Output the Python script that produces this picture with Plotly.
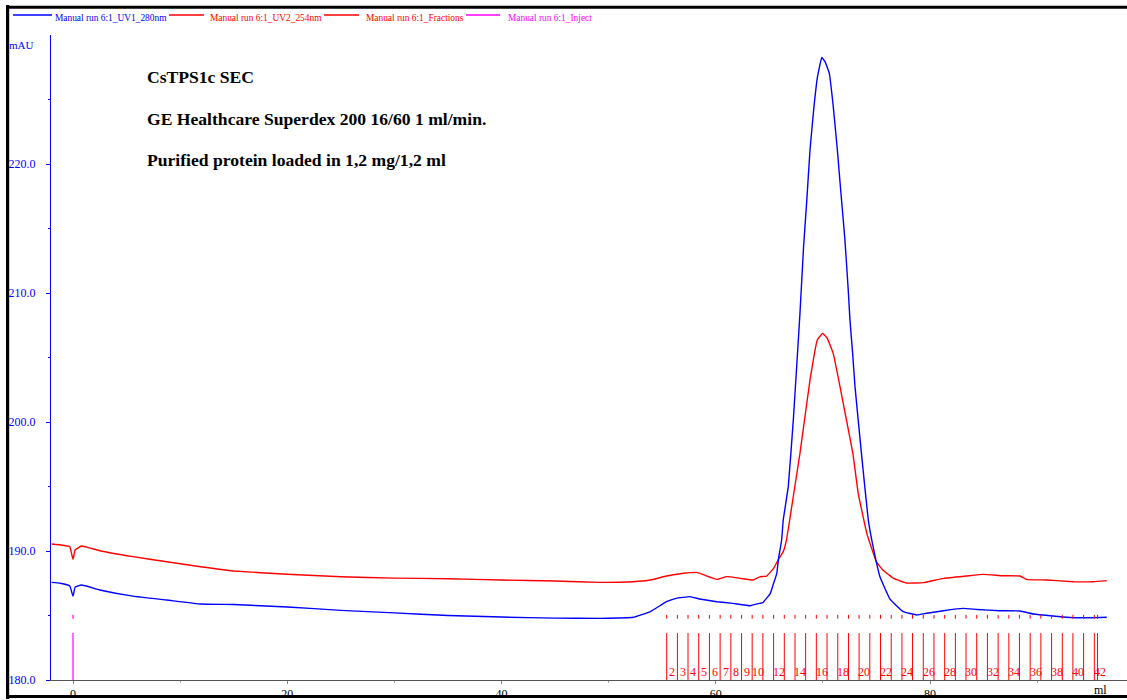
import plotly.graph_objects as go

# ---------------- data ----------------
uv280_ml = [-2.0, -1.2, -0.3, 0.0, 0.2, 0.8, 2.5, 5.6, 8.75, 11.9, 15.0, 20.0, 25.0, 30.0,
            35.0, 40.0, 45.0, 49.2, 52.3, 53.9, 55.4, 56.3, 57.6, 58.5, 60.1, 61.6, 63.2,
            64.1, 64.4, 65.1, 65.4, 65.7, 65.84, 66.15, 66.3, 66.77, 67.24, 67.86, 68.2,
            68.5, 68.8, 69.17, 69.5, 69.9, 70.2, 70.6, 70.97, 71.35, 71.66, 72.06, 72.37,
            72.53, 72.78, 73.0, 73.6, 74.24, 74.7, 75.33, 76.27, 77.5, 78.77, 79.7, 81.26,
            83.1, 84.4, 86.5, 88.4, 89.65, 91.5, 93.4, 95.25, 96.5]
uv280_mau = [187.57, 187.5, 187.29, 186.5, 187.2, 187.36, 186.98, 186.5, 186.2, 185.89, 185.85,
             185.66, 185.4, 185.2, 185.0, 184.88, 184.8, 184.78, 184.86, 185.3, 186.07, 186.33,
             186.46, 186.28, 186.07, 185.94, 185.76, 185.94, 186.0, 186.72, 187.5, 188.27, 189.3,
             190.85, 192.4, 194.99, 200.16, 208.4, 213.6, 217.2, 221.1, 224.45, 226.77, 228.26,
             227.93, 227.03, 224.45, 221.1, 218.0, 214.1, 210.2, 207.9, 205.3, 202.74, 197.57,
             192.4, 190.3, 188.0, 186.27, 185.3, 185.04, 185.17, 185.37, 185.55, 185.47, 185.37,
             185.35, 185.12, 184.96, 184.83, 184.83, 184.86]

uv254_ml = [-2.0, -1.0, -0.3, 0.0, 0.2, 0.8, 2.5, 5.6, 8.75, 11.9, 15.0, 20.0, 25.0, 30.0,
            35.0, 40.0, 45.0, 49.2, 52.3, 53.9, 55.4, 57.0, 58.2, 60.1, 61.0, 62.3, 63.5,
            64.1, 64.75, 65.4, 66.0, 66.3, 66.6, 66.9, 67.86, 68.8, 69.48, 69.98, 70.4,
            70.97, 71.6, 72.2, 72.8, 73.3, 74.1, 75.0, 75.6, 76.6, 77.8, 79.4, 81.26, 83.4,
            85.0, 86.8, 88.4, 89.0, 90.9, 93.4, 95.25, 96.5]
uv254_mau = [190.54, 190.45, 190.33, 189.35, 190.08, 190.39, 190.02, 189.56, 189.17, 188.78,
             188.45, 188.2, 188.0, 187.9, 187.85, 187.75, 187.67, 187.57, 187.62, 187.75,
             188.06, 188.27, 188.34, 187.8, 188.01, 187.88, 187.75, 188.0, 188.06, 188.66,
             189.56, 189.95, 190.85, 192.4, 197.57, 203.26, 206.36, 206.87, 206.5, 205.3,
             202.74, 200.16, 197.57, 194.47, 191.37, 189.15, 188.53, 187.88, 187.52, 187.55,
             187.88, 188.06, 188.19, 188.08, 188.06, 187.8, 187.75, 187.62, 187.62, 187.7]

fraction_numbers = list(range(2, 43))
fraction_ml = [55.42, 56.42, 57.41, 58.41, 59.41, 60.41, 61.41, 62.41, 63.40, 64.40, 65.40,
               66.40, 67.40, 68.39, 69.39, 70.39, 71.39, 72.39, 73.38, 74.38, 75.38, 76.38,
               77.38, 78.37, 79.37, 80.37, 81.37, 82.37, 83.36, 84.36, 85.36, 86.36, 87.36,
               88.35, 89.35, 90.35, 91.35, 92.35, 93.34, 94.34, 95.34]
fraction_end_ml = 95.64
labelled_fractions = [2, 3, 4, 5, 6, 7, 8, 9, 10, 12, 14, 16, 18, 20, 22, 24, 26, 28, 30,
                      32, 34, 36, 38, 40, 42]
inject_ml = [0.0]

legend_names = ["Manual run 6:1_UV1_280nm", "Manual run 6:1_UV2_254nm",
                "Manual run 6:1_Fractions", "Manual run 6:1_Inject"]
title_lines = ["CsTPS1c SEC", "GE Healthcare Superdex 200 16/60 1 ml/min.",
               "Purified protein loaded in 1,2 mg/1,2 ml"]

x_ticks = [0, 20, 40, 60, 80]
y_ticks = [180, 190, 200, 210, 220]

# ---------------- layout geometry ----------------
W, H = 1127, 700
L, R, T, B = 51, 0, 35, 20
PW, PH = W - L - R, H - T - B
px_per_ml = 10.7125
x0_px = 73  # pixel of 0 ml
xr = [(L - x0_px) / px_per_ml, (W - R - x0_px) / px_per_ml]
yr = [180, 230]

def px(xp):
    return (xp - L) / PW

def py(yp):
    return (H - B - yp) / PH

BLUE = "#0000ff"
RED = "#ff0000"
MAG = "#ff00ff"
SERIF = "Liberation Serif, Times New Roman, serif"

fig = go.Figure()

fig.add_trace(go.Scatter(x=uv254_ml, y=uv254_mau, mode="lines",
                         line=dict(color=RED, width=1.4, shape="spline", smoothing=0.3),
                         name=legend_names[1], showlegend=False, hoverinfo="skip"))
fig.add_trace(go.Scatter(x=uv280_ml, y=uv280_mau, mode="lines",
                         line=dict(color=BLUE, width=1.4, shape="spline", smoothing=0.3),
                         name=legend_names[0], showlegend=False, hoverinfo="skip"))

# fraction marks
long_x, long_y, tick_x, tick_y = [], [], [], []
for v in fraction_ml + [fraction_end_ml]:
    long_x += [v, v, None]
    long_y += [180.0, 183.64, None]
    tick_x += [v, v, None]
    tick_y += [184.75, 185.05, None]
fig.add_trace(go.Scatter(x=long_x, y=long_y, mode="lines", line=dict(color=RED, width=1),
                         showlegend=False, hoverinfo="skip"))
fig.add_trace(go.Scatter(x=tick_x, y=tick_y, mode="lines", line=dict(color=RED, width=1),
                         showlegend=False, hoverinfo="skip"))

# inject mark
ix, iy = [], []
for v in inject_ml:
    ix += [v, v, None, v, v, None]
    iy += [180.0, 183.64, None, 184.75, 185.05, None]
fig.add_trace(go.Scatter(x=ix, y=iy, mode="lines", line=dict(color=MAG, width=1.2),
                         showlegend=False, hoverinfo="skip"))

annotations = []
for n, v in zip(fraction_numbers, fraction_ml):
    if n in labelled_fractions:
        annotations.append(dict(x=v + 0.5, y=180.62, xref="x", yref="y", text=str(n),
                                showarrow=False, xanchor="center", yanchor="middle",
                                font=dict(family=SERIF, size=12, color=RED)))

# title text
for txt, yp in zip(title_lines, [77, 119, 160]):
    annotations.append(dict(x=px(145), y=py(yp), xref="paper", yref="paper", text="<b>" + txt + "</b>",
                            showarrow=False, xanchor="left", yanchor="middle",
                            font=dict(family=SERIF, size=17.6, color="black")))

# legend
legend_specs = [(13, 52, 53, BLUE, BLUE), (169, 204, 208, RED, RED),
                (324, 359, 364, RED, RED), (466, 500, 506, MAG, MAG)]
shapes = []
for name, (l0, l1, tx, lc, tc) in zip(legend_names, legend_specs):
    shapes.append(dict(type="line", xref="paper", yref="paper", x0=px(l0), x1=px(l1),
                       y0=py(15), y1=py(15), line=dict(color=lc, width=1.4)))
    annotations.append(dict(x=px(tx), y=py(18), xref="paper", yref="paper", text=name,
                            showarrow=False, xanchor="left", yanchor="middle",
                            font=dict(family=SERIF, size=9.4, color=tc)))

annotations.append(dict(x=px(7), y=py(45), xref="paper", yref="paper", text="mAU",
                        showarrow=False, xanchor="left", yanchor="middle",
                        font=dict(family=SERIF, size=11, color=BLUE)))
annotations.append(dict(x=(1100 - x0_px) / px_per_ml, y=py(690), xref="x", yref="paper", text="ml",
                        showarrow=False, xanchor="center", yanchor="middle",
                        font=dict(family=SERIF, size=12, color="black")))

# outer frame (left, top, bottom)
shapes.append(dict(type="line", xref="paper", yref="paper", x0=px(7.6), x1=px(7.6),
                   y0=py(5), y1=py(699), line=dict(color="black", width=3.2)))
shapes.append(dict(type="line", xref="paper", yref="paper", x0=px(6), x1=px(W),
                   y0=py(7.2), y1=py(7.2), line=dict(color="black", width=3)))
shapes.append(dict(type="line", xref="paper", yref="paper", x0=px(6), x1=px(W),
                   y0=py(696.5), y1=py(696.5), line=dict(color="black", width=3)))

fig.update_layout(
    width=W, height=H,
    margin=dict(l=L, r=R, t=T, b=B, pad=0, autoexpand=False),
    paper_bgcolor="white", plot_bgcolor="white",
    showlegend=False,
    annotations=annotations, shapes=shapes,
    xaxis=dict(range=xr, tickvals=x_ticks, ticktext=[str(v) for v in x_ticks],
               showgrid=False, zeroline=False, showline=True, linecolor="#555555", linewidth=1,
               ticks="outside", ticklen=3, tickcolor="#888888", automargin=False,
               minor=dict(tickvals=[10, 30, 50, 70, 90], ticks="outside", ticklen=2, tickcolor="#aaaaaa"),
               tickfont=dict(family=SERIF, size=12, color="black")),
    yaxis=dict(range=yr, tickvals=y_ticks, ticktext=["%.1f" % v for v in y_ticks],
               showgrid=False, zeroline=False, showline=True, linecolor=BLUE, linewidth=1,
               ticks="outside", ticklen=4, tickcolor=BLUE, ticklabelstandoff=8, automargin=False,
               minor=dict(tickvals=[185, 195, 205, 215, 225], ticks="outside", ticklen=2, tickcolor=BLUE),
               tickfont=dict(family=SERIF, size=12, color=BLUE)),
)

fig.write_html("out.html", config={"displayModeBar": False, "staticPlot": True},
               post_script="document.body.style.margin='0px';document.body.style.overflow='hidden';")
